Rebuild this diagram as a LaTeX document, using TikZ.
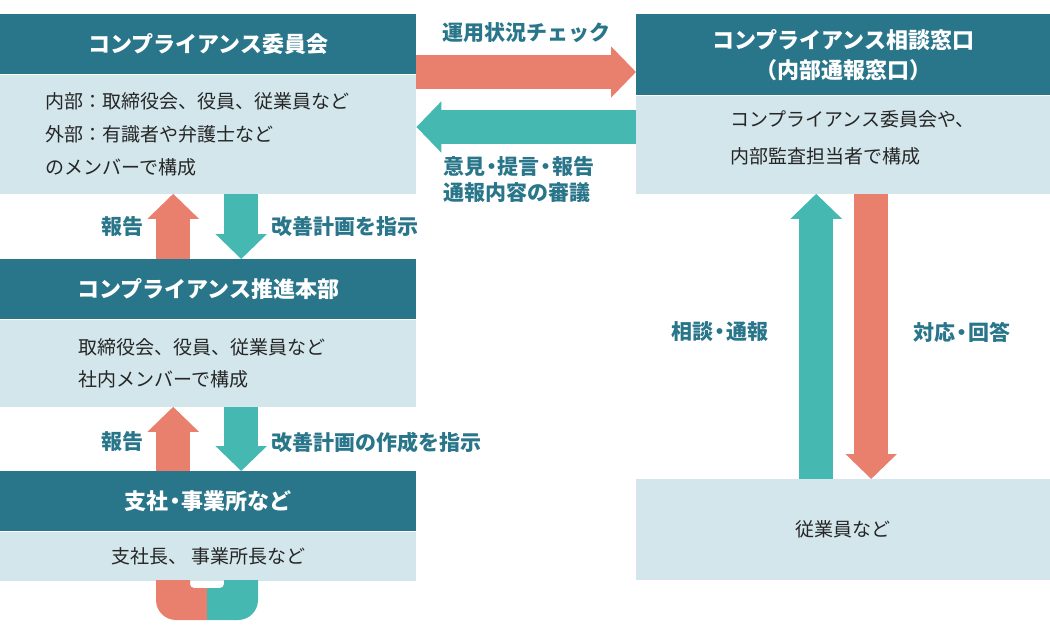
\documentclass[tikz,border=0pt]{standalone}
\usepackage{fontspec}
\setmainfont{Noto Sans CJK JP}
\usetikzlibrary{arrows.meta,positioning}
\definecolor{hdcol}{HTML}{29758A}
\definecolor{bdcol}{HTML}{D2E6EC}
\definecolor{orcol}{HTML}{E9806E}
\definecolor{tlcol}{HTML}{45B8B2}
\definecolor{txcol}{HTML}{262626}
\newcommand\ndot{\kern-0.2em・\kern-0.2em}
\tikzset{
  header/.style={fill=hdcol, text=white, font=\fontsize{22}{30}\selectfont\bfseries,
    anchor=north west, inner sep=0pt, align=center},
  body/.style={fill=bdcol, text=txcol, font=\fontsize{19}{33}\selectfont,
    anchor=north west, inner sep=0pt},
  bodytxt/.style={text=txcol, font=\fontsize{19}{37}\selectfont, inner sep=0pt, align=left},
  flowlabel/.style={text=hdcol, font=\fontsize{21}{26}\selectfont\bfseries, inner sep=0pt},
  fatarrow/.style={line width=34pt, -{Triangle[length=25pt,width=50pt]}},
  orarrow/.style={fatarrow, color=orcol},
  tlarrow/.style={fatarrow, color=tlcol}
}
\begin{document}
\begin{tikzpicture}[x=1pt,y=-1pt]
  \useasboundingbox (0,0) rectangle (1050,630);
  % left column
  \node[header, minimum width=416pt, minimum height=60pt] (h1) at (0,14) {コンプライアンス委員会};
  \node[body, minimum width=416pt, minimum height=119pt, text width=326pt, inner xsep=45pt, align=left] (b1)
    at (h1.south west) {内部：取締役会、役員、従業員など\\外部：有識者や弁護士など\\のメンバーで構成};
  \node[header, minimum width=416pt, minimum height=60pt] (h2) at (0,259) {コンプライアンス推進本部};
  \node[body, minimum width=416pt, minimum height=87pt, text width=260pt, inner xsep=78pt, align=left,
    font=\fontsize{19}{32}\selectfont] (b2)
    at (h2.south west) {取締役会、役員、従業員など\\社内メンバーで構成};
  \node[header, minimum width=416pt, minimum height=60pt] (h3) at (0,471) {支社\ndot 事業所など};
  \node[body, minimum width=416pt, minimum height=49pt] (b3) at (h3.south west) {支社長、 事業所長など};
  % right column
  \node[header, minimum width=414pt, minimum height=81pt] (rh) at (636,14) {コンプライアンス相談窓口\\（内部通報窓口）};
  \node[body, minimum width=414pt, minimum height=98pt] (rb) at (rh.south west) {};
  \node[bodytxt, anchor=west] (rbt) at ([xshift=94pt, yshift=7pt]rb.west) {コンプライアンス委員会や、\\内部監査担当者で構成};
  \node[body, minimum width=414pt, minimum height=101pt] (emp) at (636,479) {従業員など};
  % horizontal arrows
  \coordinate (chk) at (526,72);
  \coordinate (fb) at (526,127);
  \draw[orarrow] (chk -| b1.east) -- (chk -| rh.west);
  \draw[tlarrow] (fb -| rb.west) -- (fb -| b1.east);
  \node[flowlabel] (lchk) at (526,33) {運用状況チェック};
  \node[flowlabel, anchor=west, align=left] (lfb) at (443,180) {意見\ndot 提言\ndot 報告\\通報内容の審議};
  % left vertical arrows
  \draw[orarrow] ([xshift=-35pt]h2.north) -- ([xshift=-35pt]b1.south);
  \draw[tlarrow] ([xshift=33pt]b1.south) -- ([xshift=33pt]h2.north);
  \node[flowlabel, anchor=east] (rep1) at (144,227) {報告};
  \node[flowlabel, anchor=west] (plan1) at (271,227) {改善計画を指示};
  \draw[orarrow] ([xshift=-35pt]h3.north) -- ([xshift=-35pt]b2.south);
  \draw[tlarrow] ([xshift=33pt]b2.south) -- ([xshift=33pt]h3.north);
  \node[flowlabel, anchor=east] (rep2) at (144,442) {報告};
  \node[flowlabel, anchor=west] (plan2) at (271,442) {改善計画の作成を指示};
  % loop under the branch box
  \fill[orcol] (156,580) [rounded corners=20pt] -- (156,620) [sharp corners] -- (207,620) -- (207,588)
    [rounded corners=4pt] -- (190,588) [sharp corners] -- (190,580) -- cycle;
  \fill[tlcol] (258,580) [rounded corners=20pt] -- (258,620) [sharp corners] -- (207,620) -- (207,588)
    [rounded corners=4pt] -- (224,588) [sharp corners] -- (224,580) -- cycle;
  % right vertical arrows
  \draw[tlarrow] ([xshift=-27pt]emp.north) -- ([xshift=-27pt]rb.south);
  \draw[orarrow] ([xshift=28pt]rb.south) -- ([xshift=28pt]emp.north);
  \node[flowlabel] (cons) at (720,332) {相談\ndot 通報};
  \node[flowlabel] (resp) at (962,332) {対応\ndot 回答};
\end{tikzpicture}
\end{document}
